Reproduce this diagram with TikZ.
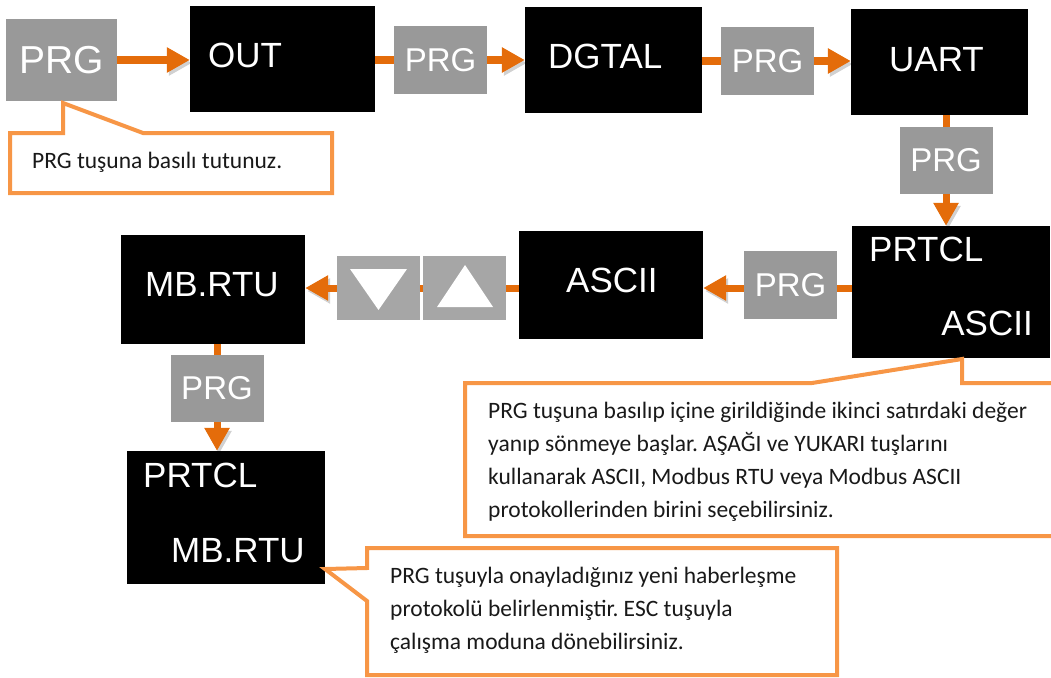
\documentclass[tikz,border=0pt]{standalone}
\usepackage{fontspec}
\setmainfont{Carlito}
\newfontfamily\prgfont{Liberation Sans}
\newfontfamily\lcdfont{Liberation Sans}
\usetikzlibrary{arrows.meta}
\definecolor{arrowor}{HTML}{E46C0A}
\definecolor{callor}{HTML}{F79646}
\definecolor{keygray}{HTML}{999999}
\definecolor{btngray}{HTML}{A6A6A6}
\pgfdeclarelayer{bg}
\pgfsetlayers{bg,main}
\frenchspacing
\begin{document}
\begin{tikzpicture}[x=1pt,y=-1pt,
  screen/.style={fill=black,inner sep=0pt},
  prgkey/.style={fill=keygray,inner sep=0pt,minimum width=93pt,minimum height=67pt,
    text=white,font=\prgfont\fontsize{33}{33}\selectfont},
  btn/.style={fill=btngray,inner sep=0pt,minimum width=83pt,minimum height=64pt},
  lcdtext/.style={text=white,inner sep=0pt,anchor=base west,font=\lcdfont\fontsize{35}{35}\selectfont},
  flowline/.style={draw=arrowor,line width=7pt,
    preaction={draw=black!18,transform canvas={shift={(2,3)}}}},
  flow/.style={flowline,-{Triangle[length=23pt,width=24pt]}},
  callout/.style={draw=callor,line width=4pt,fill=white,line join=miter},
  note/.style={inner sep=0pt,align=left,anchor=north west,text=black!90,
    font=\fontsize{23.5}{33}\selectfont}]
\useasboundingbox (0,0) rectangle (1051,677);

% top row
\node[prgkey,minimum width=111pt,minimum height=82pt,font=\prgfont\fontsize{39}{39}\selectfont] (prga) at (61.5,60) {PRG};
\node[screen,minimum width=185pt,minimum height=106pt] (out) at (282.5,59) {};
\node[lcdtext] (outt) at (208,67) {OUT};
\node[prgkey] (prgb) at (440.5,60) {PRG};
\node[screen,minimum width=177pt,minimum height=106pt] (dgtal) at (613.5,60) {};
\node[lcdtext] (dgtalt) at (548,68) {DGTAL};
\node[prgkey] (prgc) at (767.5,61) {PRG};
\node[screen,minimum width=177pt,minimum height=106pt] (uart) at (939.5,62) {};
\node[lcdtext] (uartt) at (889,71) {UART};

% right column
\node[prgkey] (prgd) at (946,160) {PRG};
\node[screen,minimum width=198pt,minimum height=132pt] (prtcla) at (951,292) {};
\node[lcdtext] (prtclat) at (869,261) {PRTCL};
\node[lcdtext,anchor=base east] (asciiat) at (1033,335) {ASCII};

% middle row
\node[prgkey,minimum height=68pt] (prge) at (790.5,285) {PRG};
\node[screen,minimum width=184pt,minimum height=108pt] (ascii) at (611,285) {};
\node[lcdtext] (asciit) at (566,292) {ASCII};
\node[btn] (up) at (464.5,288) {};
\node[btn] (down) at (378.5,288) {};
\fill[white] ([shift={(-27.5,19)}]up.center) -- ([shift={(28.5,19)}]up.center) -- ([shift={(0.5,-23)}]up.center) -- cycle;
\fill[white] ([shift={(-28.5,-19)}]down.center) -- ([shift={(28.5,-19)}]down.center) -- ([shift={(0,22)}]down.center) -- cycle;
\node[screen,minimum width=184pt,minimum height=109pt] (mbrtu) at (213,289.5) {};
\node[lcdtext] (mbrtut) at (145,296) {MB.RTU};

% left column
\node[prgkey] (prgf) at (217,388.5) {PRG};
\node[screen,minimum width=198pt,minimum height=133pt] (prtclb) at (226,517.5) {};
\node[lcdtext] (prtclbt) at (143,487) {PRTCL};
\node[lcdtext] (mbrtubt) at (171,562) {MB.RTU};

% connectors
\begin{pgfonlayer}{bg}
\draw[flow] (prga.east) -- (out.west |- prga.east);
\draw[flow] (out.east |- prgb.center) -- (dgtal.west |- prgb.center);
\draw[flow] (dgtal.east |- prgc.center) -- (uart.west |- prgc.center);
\draw[flow] (prgd.center |- uart.south) -- (prgd.center |- prtcla.north);
\draw[flow] (prtcla.west |- up.center) -- (ascii.east |- up.center);
\draw[flow] (ascii.west |- up.center) -- (mbrtu.east |- up.center);
\draw[flow] (prgf.center |- mbrtu.south) -- (prgf.center |- prtclb.north);
\end{pgfonlayer}

% callouts
\draw[callout] (10,133) -- (63,133) -- (63,103) -- (143,133) -- (332,133) -- (332,193) -- (10,193) -- cycle;
\node[note] (notea) at (32,148) {\rule{0pt}{20pt}PRG tuşuna basılı tutunuz.};

\draw[callout] (465,383) -- (812,383) -- (962,359) -- (962,383) -- (1060,383) -- (1060,536) -- (465,536) -- cycle;
\node[note] (noteb) at (488,398) {\rule{0pt}{20pt}PRG tuşuna basılıp içine girildiğinde ikinci satırdaki değer\\
yanıp sönmeye başlar. AŞAĞI ve YUKARI tuşlarını\\
kullanarak ASCII, Modbus RTU veya Modbus ASCII\\
protokollerinden birini seçebilirsiniz.};

\draw[callout] (367,548) -- (837,548) -- (837,675) -- (367,675) -- (367,601) -- (325,569) -- (367,568) -- cycle;
\node[note] (notec) at (390,563) {\rule{0pt}{20pt}PRG tuşuyla onayladığınız yeni haberleşme\\
protokolü belirlenmiştir. ESC tuşuyla\\
çalışma moduna dönebilirsiniz.};
\end{tikzpicture}
\end{document}
